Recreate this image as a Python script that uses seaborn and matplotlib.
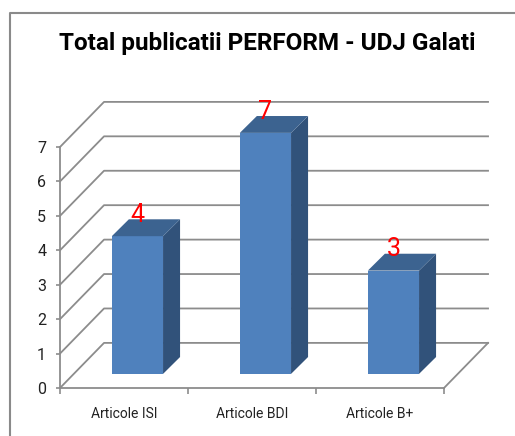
import matplotlib
matplotlib.use("Agg")
import matplotlib.pyplot as plt
from matplotlib.patches import Polygon
from matplotlib.lines import Line2D
import seaborn as sns

# data
categories = ["Articole ISI", "Articole BDI", "Articole B+"]
values = [4, 7, 3]
y_ticks = [0, 1, 2, 3, 4, 5, 6, 7]
title = "Total publicatii PERFORM - UDJ Galati"

plt.rcParams['font.family'] = ['Roboto', 'DejaVu Sans']

front_col = "#4F81BD"
side_col = "#31527A"
top_col = "#3C6390"
grid_col = "#8C8C8C"

# fake 3d depth, in data units (x = category, y = value)
wall_dx, wall_dy = 0.344, 1.31
bar_dx, bar_dy = 0.133, 0.49
shift_x, shift_y = 0.105, 0.41

fig = plt.figure(figsize=(5.15, 4.36), dpi=100)
ax = fig.add_axes([60 / 515, 48 / 436, 384 / 515, 241 / 436])

sns.barplot(x=categories, y=values, width=0.4, color=front_col, saturation=1,
            linewidth=0, ax=ax, zorder=3)

ax.set_xlim(-0.5, 2.5)
ax.set_ylim(0, 7)

# push the bars back into the box and add side / top faces
for p, v in zip(ax.patches[:len(values)], values):
    p.set_x(p.get_x() + shift_x)
    p.set_y(shift_y)
    p.set_clip_on(False)
    x0 = p.get_x()
    x1 = x0 + p.get_width()
    y1 = shift_y + v
    ax.add_patch(Polygon([(x1, shift_y), (x1, y1), (x1 + bar_dx, y1 + bar_dy),
                          (x1 + bar_dx, shift_y + bar_dy)],
                         closed=True, fc=side_col, ec="none", zorder=3, clip_on=False))
    ax.add_patch(Polygon([(x0, y1), (x1, y1), (x1 + bar_dx, y1 + bar_dy),
                          (x0 + bar_dx, y1 + bar_dy)],
                         closed=True, fc=top_col, ec="none", zorder=3, clip_on=False))
    ax.text((x0 + x1) / 2, y1 + bar_dy - 0.08, str(v), color="red", ha="center",
            va="baseline", fontsize=18, zorder=5, clip_on=False)

# walls: gridlines on the left and back wall, plus floor edge
for v in y_ticks:
    ax.plot([-0.5, -0.5 + wall_dx, 2.5 + wall_dx], [v, v + wall_dy, v + wall_dy],
            color=grid_col, lw=1.3, zorder=1, clip_on=False)
ax.plot([2.5, 2.5 + wall_dx], [0, wall_dy], color=grid_col, lw=1.3, zorder=1, clip_on=False)

ax.spines[["top", "right"]].set_visible(False)
ax.spines[["left", "bottom"]].set_color(grid_col)
ax.spines[["left", "bottom"]].set_linewidth(1.3)

ax.set_yticks(y_ticks)
ax.set_xticks([0, 1, 2])
ax.set_xticklabels(categories)
ax.set_xticks([-0.5, 0.5, 1.5, 2.5], minor=True)
ax.tick_params(axis="x", which="major", length=0, pad=14, labelsize=10, colors="#222222")
ax.tick_params(axis="x", which="minor", length=4, width=1.2, color=grid_col)
ax.tick_params(axis="y", length=3, width=1.2, color=grid_col, pad=7, labelsize=11.5,
               labelcolor="#222222")
ax.set_xlabel("")
ax.set_ylabel("")
ax.patch.set_alpha(0)

fig.text(267 / 515, 1 - 50 / 436, title, ha="center", va="baseline",
         fontsize=17.5, fontweight="bold")

# chart area frame (only top and left edges are in view)
fig.add_artist(Line2D([10 / 515, 10 / 515, 1.0], [0.0, 1 - 13 / 436, 1 - 13 / 436],
                      transform=fig.transFigure, color="#8A8A8A", lw=1.5))

fig.savefig("out.png", dpi=100)
